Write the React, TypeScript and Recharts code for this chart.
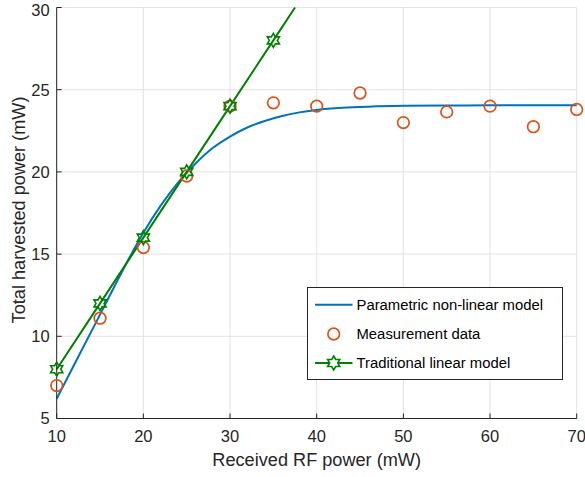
import React from "react";
import { ComposedChart, Line, XAxis, YAxis, CartesianGrid, Legend } from "recharts";

const BLUE = "#0072BD";
const ORANGE = "#D95319";
const GREEN = "#008000";
const INK = "#262626";
const FONT = "'Liberation Sans', Arial, Helvetica, sans-serif";

// parametric non-linear model (smooth curve)
const modelX = [10, 12, 14, 16, 18, 20, 22, 24, 26, 28, 30, 32, 34, 36, 38, 40, 43, 46, 50, 55, 60, 70];
const modelY = [6.2, 8.25, 10.3, 12.35, 14.4, 16.3, 17.95, 19.35, 20.5, 21.45, 22.15, 22.7, 23.1, 23.4, 23.62, 23.77, 23.9, 23.97, 24.02, 24.04, 24.05, 24.05];

// measurement data
const measX = [10, 15, 20, 25, 30, 35, 40, 45, 50, 55, 60, 65, 70];
const measY = [7.0, 11.1, 15.4, 19.75, 24.0, 24.2, 24.0, 24.8, 23.0, 23.65, 24.0, 22.75, 23.8];

// traditional linear model (last point is where the line leaves the top)
const linX = [10, 15, 20, 25, 30, 35, 37.5];
const linY = [8, 12, 16, 20, 24, 28, 30];
const linMarked = 6;

const xTicks = [10, 20, 30, 40, 50, 60, 70];
const yTicks = [5, 10, 15, 20, 25, 30];

const model = modelX.map((x, i) => ({ x, y: modelY[i] }));
const measured = measX.map((x, i) => ({ x, y: measY[i] }));
const linear = linX.map((x, i) => ({ x, y: linY[i] }));

function hexagram(cx: number, cy: number, R: number) {
  const r = R / Math.sqrt(3);
  const pts: string[] = [];
  for (let k = 0; k < 12; k++) {
    const a = ((-90 + k * 30) * Math.PI) / 180;
    const rad = k % 2 === 0 ? R : r;
    pts.push(`${cx + rad * Math.cos(a)},${cy + rad * Math.sin(a)}`);
  }
  return pts.join(" ");
}

const StarDot = (props: any) => {
  const { cx, cy, index } = props;
  if (index >= linMarked || cx == null) return <g key={`s-${index}`} />;
  return (
    <polygon
      key={`s-${index}`}
      points={hexagram(cx, cy, 7)}
      fill="none"
      stroke={GREEN}
      strokeWidth={1.6}
    />
  );
};

const CircleDot = (props: any) => {
  const { cx, cy, index } = props;
  return <circle key={`c-${index}`} cx={cx} cy={cy} r={5.8} fill="none" stroke={ORANGE} strokeWidth={1.7} />;
};

function LegendBox() {
  const rows = [17.7, 47, 76];
  return (
    <svg width={256} height={93} style={{ display: "block" }}>
      <rect x={0.5} y={0.5} width={255} height={92} fill="#fff" stroke={INK} strokeWidth={1} />
      <line x1={8} x2={45.5} y1={rows[0]} y2={rows[0]} stroke={BLUE} strokeWidth={2} />
      <circle cx={26.7} cy={rows[1]} r={5.8} fill="none" stroke={ORANGE} strokeWidth={1.7} />
      <line x1={8} x2={45.5} y1={rows[2]} y2={rows[2]} stroke={GREEN} strokeWidth={2} />
      <polygon points={hexagram(26.7, rows[2], 7)} fill="#fff" stroke={GREEN} strokeWidth={1.6} />
      {["Parametric non-linear model", "Measurement data", "Traditional linear model"].map((t, i) => (
        <text key={t} x={49.5} y={rows[i]} dominantBaseline="central" fontSize={14.85} fontFamily={FONT} fill="#000">
          {t}
        </text>
      ))}
    </svg>
  );
}

export default function App() {
  const tickStyle = { fill: INK, fontSize: 16.5, fontFamily: FONT };
  return (
    <div style={{ position: "absolute", left: 0, top: 0, background: "#fff" }}>
      <ComposedChart width={585} height={477} margin={{ top: 7.5, right: 8.3, left: 0, bottom: 0 }}>
        <CartesianGrid stroke="#e3e3e3" strokeWidth={1} />
        <XAxis
          type="number"
          dataKey="x"
          domain={[10, 70]}
          ticks={xTicks}
          height={58.5}
          tickSize={-5}
          tickMargin={17.2}
          tick={tickStyle}
          stroke={INK}
          axisLine={{ stroke: INK }}
          tickLine={{ stroke: INK }}
          label={{
            value: "Received RF power (mW)",
            position: "insideBottom",
            offset: 11,
            fill: INK,
            fontSize: 18.15,
            fontFamily: FONT,
          }}
        />
        <XAxis
          xAxisId="top"
          orientation="top"
          type="number"
          domain={[10, 70]}
          ticks={xTicks}
          height={0}
          tickSize={-5}
          tick={false}
          axisLine={{ stroke: INK }}
          tickLine={{ stroke: INK }}
        />
        <YAxis
          type="number"
          domain={[5, 30]}
          ticks={yTicks}
          width={56.7}
          tickSize={-5}
          tickMargin={12}
          tick={tickStyle}
          axisLine={{ stroke: INK }}
          tickLine={{ stroke: INK }}
          label={{
            value: "Total harvested power (mW)",
            angle: -90,
            position: "center",
            dx: -9.85,
            dy: -3,
            fill: INK,
            fontSize: 18.15,
            fontFamily: FONT,
          }}
        />
        <YAxis
          yAxisId="right"
          orientation="right"
          type="number"
          domain={[5, 30]}
          ticks={yTicks}
          width={0}
          tickSize={-5}
          tick={false}
          axisLine={{ stroke: INK }}
          tickLine={{ stroke: INK }}
        />
        <Line
          data={model}
          dataKey="y"
          type="monotone"
          stroke={BLUE}
          strokeWidth={2}
          dot={false}
          activeDot={false}
          isAnimationActive={false}
        />
        <Line
          data={measured}
          dataKey="y"
          stroke="none"
          dot={CircleDot}
          activeDot={false}
          isAnimationActive={false}
        />
        <Line
          data={linear}
          dataKey="y"
          type="linear"
          stroke={GREEN}
          strokeWidth={2}
          dot={StarDot}
          activeDot={false}
          isAnimationActive={false}
        />
        <Legend
          layout="horizontal"
          verticalAlign="middle"
          align="center"
          content={() => <LegendBox />}
          wrapperStyle={{ left: 307, top: 287, width: 256, height: 93 }}
        />
      </ComposedChart>
    </div>
  );
}
